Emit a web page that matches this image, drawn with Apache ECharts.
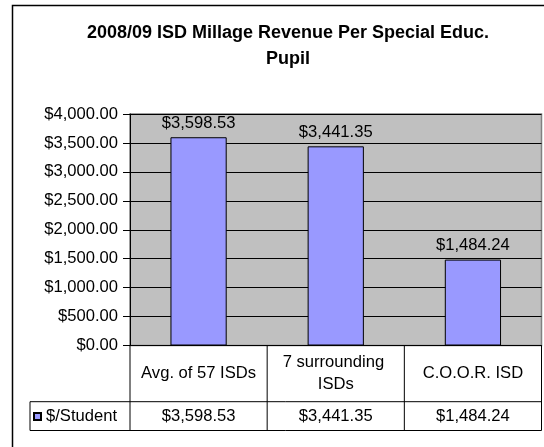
<!DOCTYPE html>
<html>
<head>
<meta charset="utf-8">
<title>2008/09 ISD Millage Revenue Per Special Educ. Pupil</title>
<script src="https://cdn.jsdelivr.net/npm/echarts@6/dist/echarts.min.js"></script>
<style>
  html, body { margin: 0; padding: 0; background: #fff; }
  #chart { width: 544px; height: 447px; }
</style>
</head>
<body>
<div id="chart"></div>
<script>
// Chart data
const titleLines = ['2008/09 ISD Millage Revenue Per Special Educ.', 'Pupil'];
const categories = ['Avg. of 57 ISDs', '7 surrounding ISDs', 'C.O.O.R. ISD'];
const seriesName = '$/Student';
const perStudent = [3598.53, 3441.35, 1484.24];
const yMin = 0;
const yMax = 4000;
const yStep = 500;

const FONT = 'Liberation Sans, Arial, sans-serif';
const TEXT_SIZE = 16.6;
const money = v => '$' + Number(v).toLocaleString('en-US', { minimumFractionDigits: 2, maximumFractionDigits: 2 });

const chart = echarts.init(document.getElementById('chart'), null, { renderer: 'canvas' });

const option = {
  animation: false,
  backgroundColor: '#fff',
  textStyle: { fontFamily: FONT, color: '#000' },
  title: {
    text: titleLines.join('\n'),
    left: 283,
    top: 15.5,
    textAlign: 'center',
    textStyle: {
      fontFamily: FONT, fontSize: 18, fontWeight: 'bold', color: '#000',
      lineHeight: 26, align: 'center'
    }
  },
  legend: {
    data: [seriesName],
    left: 33,
    top: 407,
    padding: 0,
    itemWidth: 7,
    itemHeight: 7,
    icon: 'rect',
    textStyle: { fontFamily: FONT, fontSize: TEXT_SIZE, color: '#000', lineHeight: 19 }
  },
  grid: {
    left: 130, right: 2.5, top: 114, bottom: 101.5,
    show: true,
    backgroundColor: '#C0C0C0',
    borderColor: '#808080',
    borderWidth: 1.5,
    containLabel: false,
    outerBoundsMode: 'none'
  },
  xAxis: [
    {
      type: 'category',
      data: categories,
      position: 'bottom',
      axisLine: { show: true, lineStyle: { color: '#000', width: 1 } },
      axisTick: { show: false },
      splitLine: { show: false },
      axisLabel: {
        interval: 0,
        margin: 28,
        verticalAlign: 'middle',
        fontFamily: FONT,
        fontSize: TEXT_SIZE,
        color: '#000',
        lineHeight: 21.5,
        width: 124,
        overflow: 'break'
      }
    },
    {
      type: 'category',
      data: categories,
      position: 'bottom',
      offset: 56.2,
      axisLine: { show: false },
      axisTick: { show: false },
      splitLine: { show: false },
      axisLabel: {
        interval: 0,
        margin: 14.8,
        verticalAlign: 'middle',
        fontFamily: FONT,
        fontSize: TEXT_SIZE,
        color: '#000',
        formatter: (value, index) => money(perStudent[index])
      }
    }
  ],
  yAxis: {
    type: 'value',
    min: yMin,
    max: yMax,
    interval: yStep,
    axisLine: { show: true, lineStyle: { color: '#000', width: 1 } },
    axisTick: { show: true, length: 7, lineStyle: { color: '#000', width: 1 } },
    splitLine: { show: true, lineStyle: { color: '#000', width: 1 } },
    axisLabel: {
      margin: 12,
      fontFamily: FONT,
      fontSize: TEXT_SIZE,
      color: '#000',
      formatter: v => money(v)
    }
  },
  series: [
    {
      name: seriesName,
      type: 'bar',
      xAxisIndex: 0,
      data: perStudent,
      barWidth: '41%',
      itemStyle: { color: '#9999FF', borderColor: '#000', borderWidth: 1 },
      label: {
        show: true,
        position: 'top',
        distance: 5.5,
        fontFamily: FONT,
        fontSize: TEXT_SIZE,
        color: '#000',
        formatter: p => money(p.value)
      }
    }
  ]
};

chart.setOption(option);

// Data table grid lines under the plot, aligned to the category bands
function drawTable() {
  const c0 = chart.convertToPixel({ xAxisIndex: 0 }, 0);
  const c1 = chart.convertToPixel({ xAxisIndex: 0 }, 1);
  const band = c1 - c0;
  const left = c0 - band / 2;
  const right = left + band * categories.length;
  const top = chart.convertToPixel({ yAxisIndex: 0 }, yMin);
  const rowH = 56.2;
  const midY = top + rowH;
  const bottomY = midY + 28.8;
  const legendLeft = 30;
  const stroke = { stroke: '#000', lineWidth: 1 };
  const lines = [];
  const seg = (x1, y1, x2, y2) => lines.push({
    type: 'line', silent: true, z: 10,
    shape: { x1, y1, x2, y2 }, style: stroke
  });
  seg(legendLeft, midY, right, midY);
  seg(legendLeft, bottomY, right, bottomY);
  seg(legendLeft, midY, legendLeft, bottomY);
  for (let i = 0; i <= categories.length; i++) {
    const x = left + band * i;
    seg(x, top, x, bottomY);
  }
  // outer chart frame
  lines.push({
    type: 'rect', silent: true, z: 10,
    shape: { x: 12.5, y: 5.5, width: 600, height: 500 },
    style: { fill: null, stroke: '#000', lineWidth: 1.5 }
  });
  chart.setOption({ graphic: { elements: lines } });
}
drawTable();
</script>
</body>
</html>
